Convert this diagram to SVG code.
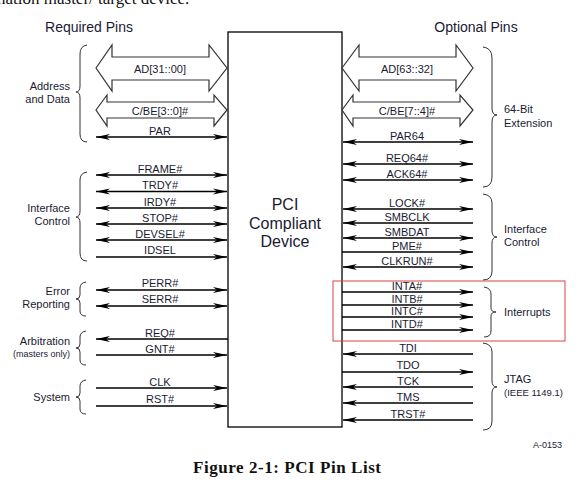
<svg xmlns="http://www.w3.org/2000/svg" width="584" height="485" viewBox="0 0 584 485">
<defs>
<marker id="ah" markerUnits="userSpaceOnUse" markerWidth="15" markerHeight="8" refX="14" refY="4" orient="auto-start-reverse" viewBox="0 0 15 8">
<path d="M0,1 L14,4 L0,7 L4,4 Z" fill="#000"/>
</marker>
<style>
text{font-family:"Liberation Sans",Arial,sans-serif;fill:#1a1a33}
.pin{font-size:11px;text-anchor:middle}
.side{font-size:11px;text-anchor:end}
.sideR{font-size:11px;text-anchor:start}
.small{font-size:9px}
.hdr{font-size:14px;text-anchor:middle}
.ln{stroke:#000;stroke-width:1.3;fill:none}
.both{marker-start:url(#ah);marker-end:url(#ah)}
.end{marker-end:url(#ah)}
.start{marker-start:url(#ah)}
.bus{fill:#fff;stroke:#333;stroke-width:1.2}
.brace{fill:none;stroke:#333;stroke-width:1}
</style>
</defs>
<rect width="584" height="485" fill="#fff"/>
<text x="-3" y="4" style="font-family:'Liberation Serif',serif;font-size:17px;fill:#111">nation master/ target device.</text>
<text class="hdr" x="89" y="32">Required Pins</text>
<text class="hdr" x="476" y="32">Optional Pins</text>

<g id="device">
<rect x="228" y="32" width="114" height="395" fill="#fff" stroke="#000" stroke-width="1.3"/>
<text x="285" y="210" style="font-size:16px;text-anchor:middle">PCI</text>
<text x="285" y="228.5" style="font-size:16px;text-anchor:middle">Compliant</text>
<text x="285" y="247" style="font-size:16px;text-anchor:middle">Device</text>
</g>

<g id="connectors">
<polygon class="bus" points="96,68 112,45 112,57 209,57 209,45 227,68 209,91 209,80 112,80 112,91"/>
<polygon class="bus" points="96,110 107,95 107,102 214,102 214,95 227,110 214,126 214,118 107,118 107,126"/>
<polygon class="bus" points="342,68 359,45 359,57 456,57 456,45 473,68 456,91 456,80 359,80 359,91"/>
<polygon class="bus" points="342,110 353,95 353,102 460,102 460,95 473,110 460,126 460,118 353,118 353,126"/>
<line class="ln both" x1="96" y1="137" x2="227" y2="137"/>
<line class="ln both" x1="96" y1="175" x2="227" y2="175"/>
<line class="ln both" x1="96" y1="191.5" x2="227" y2="191.5"/>
<line class="ln both" x1="96" y1="208" x2="227" y2="208"/>
<line class="ln both" x1="96" y1="224" x2="227" y2="224"/>
<line class="ln both" x1="96" y1="240" x2="227" y2="240"/>
<line class="ln end" x1="96" y1="257" x2="227" y2="257"/>
<line class="ln both" x1="96" y1="290" x2="227" y2="290"/>
<line class="ln both" x1="96" y1="306" x2="227" y2="306"/>
<line class="ln start" x1="96" y1="339" x2="228" y2="339"/>
<line class="ln end" x1="96" y1="355" x2="227" y2="355"/>
<line class="ln end" x1="96" y1="388" x2="227" y2="388"/>
<line class="ln end" x1="96" y1="406" x2="227" y2="406"/>

<line class="ln both" x1="343" y1="142" x2="473" y2="142"/>
<line class="ln both" x1="343" y1="164" x2="473" y2="164"/>
<line class="ln both" x1="343" y1="180" x2="473" y2="180"/>
<line class="ln both" x1="343" y1="209" x2="473" y2="209"/>
<line class="ln start" x1="343" y1="223" x2="473" y2="223"/>
<line class="ln both" x1="343" y1="238" x2="473" y2="238"/>
<line class="ln end" x1="342" y1="252" x2="473" y2="252"/>
<line class="ln both" x1="343" y1="267" x2="473" y2="267"/>
<line class="ln end" x1="342" y1="292" x2="473" y2="292"/>
<line class="ln end" x1="342" y1="305" x2="473" y2="305"/>
<line class="ln end" x1="342" y1="317" x2="473" y2="317"/>
<line class="ln end" x1="342" y1="330" x2="473" y2="330"/>
<line class="ln start" x1="343" y1="354" x2="473" y2="354"/>
<line class="ln end" x1="342" y1="372" x2="473" y2="372"/>
<line class="ln start" x1="343" y1="387" x2="473" y2="387"/>
<line class="ln start" x1="343" y1="403" x2="473" y2="403"/>
<line class="ln start" x1="343" y1="420" x2="473" y2="420"/>
</g>

<g id="pin-labels">
<text class="pin" x="160" y="73">AD[31::00]</text>
<text class="pin" x="160" y="115">C/BE[3::0]#</text>
<text class="pin" x="160" y="134.5">PAR</text>
<text class="pin" x="160" y="172.5">FRAME#</text>
<text class="pin" x="160" y="189">TRDY#</text>
<text class="pin" x="160" y="205.5">IRDY#</text>
<text class="pin" x="160" y="221.5">STOP#</text>
<text class="pin" x="160" y="237.5">DEVSEL#</text>
<text class="pin" x="160" y="254">IDSEL</text>
<text class="pin" x="160" y="287">PERR#</text>
<text class="pin" x="160" y="303">SERR#</text>
<text class="pin" x="160" y="336.5">REQ#</text>
<text class="pin" x="160" y="352.5">GNT#</text>
<text class="pin" x="160" y="385.5">CLK</text>
<text class="pin" x="160" y="403">RST#</text>

<text class="pin" x="407" y="73">AD[63::32]</text>
<text class="pin" x="407" y="115">C/BE[7::4]#</text>
<text class="pin" x="407" y="139.5">PAR64</text>
<text class="pin" x="407" y="161.5">REQ64#</text>
<text class="pin" x="407" y="178">ACK64#</text>
<text class="pin" x="407" y="207">LOCK#</text>
<text class="pin" x="407" y="221">SMBCLK</text>
<text class="pin" x="407" y="236">SMBDAT</text>
<text class="pin" x="407" y="250">PME#</text>
<text class="pin" x="407" y="265">CLKRUN#</text>
<text class="pin" x="407" y="290">INTA#</text>
<text class="pin" x="407" y="303">INTB#</text>
<text class="pin" x="407" y="315">INTC#</text>
<text class="pin" x="407" y="327.5">INTD#</text>
<text class="pin" x="408" y="352">TDI</text>
<text class="pin" x="408" y="368.5">TDO</text>
<text class="pin" x="408" y="384.5">TCK</text>
<text class="pin" x="408" y="401">TMS</text>
<text class="pin" x="408" y="417.5">TRST#</text>
</g>

<g id="group-address-data">
<path class="brace" d="M87,45 Q80,46 80,54 L80,86 Q80,92 76,92 Q80,92 80,98 L80,134 Q80,142 87,142"/>
<text class="side" x="70" y="90">Address</text>
<text class="side" x="70" y="103">and Data</text>
</g>
<g id="group-interface-control-left">
<path class="brace" d="M87,172 Q80,173 80,180 L80,211 Q80,217 76,217 Q80,217 80,223 L80,253 Q80,261 87,261"/>
<text class="side" x="70" y="212">Interface</text>
<text class="side" x="70" y="224.5">Control</text>
</g>
<g id="group-error">
<path class="brace" d="M86,282 Q80,283 80,288 L80,295 Q80,299 76,299 Q80,299 80,303 L80,311 Q80,316 86,316"/>
<text class="side" x="70" y="295">Error</text>
<text class="side" x="70" y="307.5">Reporting</text>
</g>
<g id="group-arbitration">
<path class="brace" d="M86,331 Q80,332 80,337 L80,344 Q80,348 76,348 Q80,348 80,352 L80,360 Q80,365 86,365"/>
<text class="side" x="70" y="345">Arbitration</text>
<text class="side small" x="70" y="356.5">(masters only)</text>
</g>
<g id="group-system">
<path class="brace" d="M86,380 Q80,381 80,386 L80,393 Q80,397 76,397 Q80,397 80,401 L80,409 Q80,414 86,414"/>
<text class="side" x="70" y="400.5">System</text>
</g>

<g id="group-64bit">
<path class="brace" d="M483,47 Q492,48 492,58 L492,108 Q492,115 497,115 Q492,115 492,122 L492,177 Q492,187 483,187"/>
<text class="sideR" x="504" y="113">64-Bit</text>
<text class="sideR" x="504" y="127">Extension</text>
</g>
<g id="group-interface-control-right">
<path class="brace" d="M483,194 Q492,195 492,203 L492,231 Q492,237 497,237 Q492,237 492,243 L492,271 Q492,280 483,280"/>
<text class="sideR" x="504" y="233">Interface</text>
<text class="sideR" x="504" y="246">Control</text>
</g>
<g id="group-interrupts">
<rect x="333" y="281" width="232" height="60" fill="none" stroke="#d94444" stroke-width="1"/>
<path class="brace" d="M484,287 Q491,288 491,294 L491,308 Q491,312 496,312 Q491,312 491,316 L491,331 Q491,337 484,337"/>
<text class="sideR" x="504" y="316">Interrupts</text>
</g>
<g id="group-jtag">
<path class="brace" d="M483,343 Q492,344 492,352 L492,381 Q492,387 497,387 Q492,387 492,393 L492,421 Q492,430 483,430"/>
<text class="sideR" x="504" y="383">JTAG</text>
<text class="sideR small" x="504" y="396" style="font-size:9.5px">(IEEE 1149.1)</text>
</g>

<text x="562" y="448" style="font-size:9px;text-anchor:end">A-0153</text>
<text x="193" y="473" textLength="188" lengthAdjust="spacing" style="font-family:'Liberation Serif',serif;font-size:17px;font-weight:bold;fill:#111">Figure 2-1:  PCI Pin List</text>
</svg>
